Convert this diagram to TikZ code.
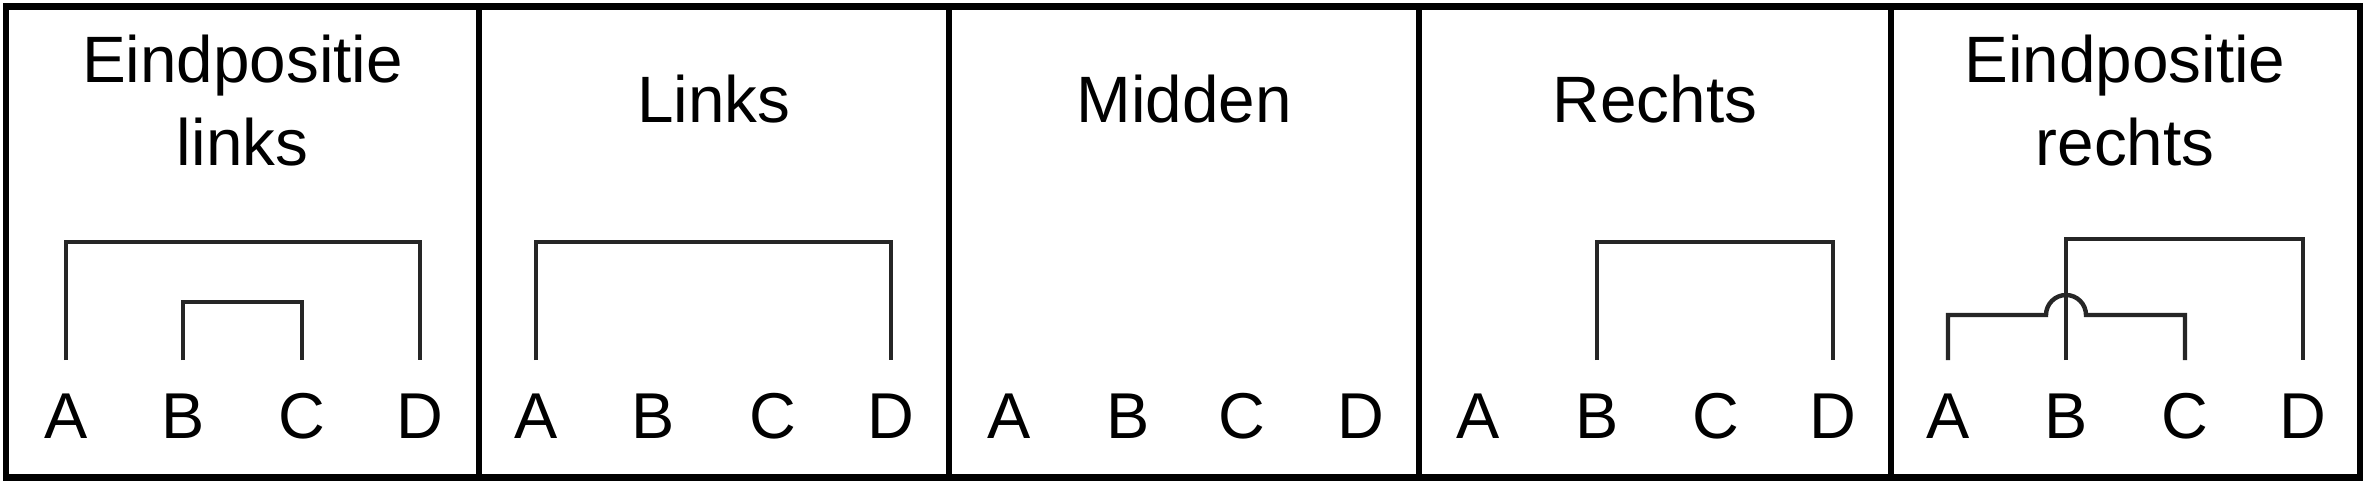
\documentclass[tikz,border=0pt]{standalone}
\usepackage{fontspec}
\setmainfont{Liberation Sans}
\usetikzlibrary{calc}
\begin{document}
\begin{tikzpicture}[x=0.25pt,y=-0.25pt,
  frame/.style={line width=1.6pt, black},
  brk/.style={line width=1.1pt, black!85, line join=miter},
  lbl/.style={anchor=base, inner sep=0pt, font=\fontsize{16.2}{19}\selectfont},
  ttl/.style={anchor=base, inner sep=0pt, font=\fontsize{16.4}{19}\selectfont}]
\useasboundingbox (0,0) rectangle (2366,484);
\fill[white] (0,0) rectangle (2366,484);
% frame and dividers
\draw[frame] (6,6.5) rectangle (2360,477.5);
\foreach \x in {479,949,1419,1891} \draw[frame] (\x,6.5) -- (\x,477.5);
% titles
\node[ttl] (t1a) at (242.5,82) {Eindpositie};
\node[ttl] (t1b) at (242.5,165) {links};
\node[ttl] (t2) at (714,122) {Links};
\node[ttl] (t3) at (1184,122) {Midden};
\node[ttl] (t4) at (1655,122) {Rechts};
\node[ttl] (t5a) at (2125,82) {Eindpositie};
\node[ttl] (t5b) at (2125,165) {rechts};
% letters
\foreach \p/\xa/\xb/\xc/\xd in {1/66/183/302/420, 2/536/653/773/891, 3/1009/1128/1242/1361, 4/1478/1597/1716/1833, 5/1948/2066/2185/2303}{
  \node[lbl] (p\p A) at (\xa,438) {A};
  \node[lbl] (p\p B) at (\xb,438) {B};
  \node[lbl] (p\p C) at (\xc,438) {C};
  \node[lbl] (p\p D) at (\xd,438) {D};
}
% levels
\coordinate (lv0) at (0,360);
\coordinate (lvtop) at (0,242);
\coordinate (lvin) at (0,302);
\coordinate (lvfive) at (0,239);
\coordinate (lvlow) at (0,315);
% panel 1
\draw[brk] (p1A |- lv0) -- (p1A |- lvtop) -- (p1D |- lvtop) -- (p1D |- lv0);
\draw[brk] (p1B |- lv0) -- (p1B |- lvin) -- (p1C |- lvin) -- (p1C |- lv0);
% panel 2
\draw[brk] (p2A |- lv0) -- (p2A |- lvtop) -- (p2D |- lvtop) -- (p2D |- lv0);
% panel 4
\draw[brk] (p4B |- lv0) -- (p4B |- lvtop) -- (p4D |- lvtop) -- (p4D |- lv0);
% panel 5
\draw[brk] (p5B |- lv0) -- (p5B |- lvfive) -- (p5D |- lvfive) -- (p5D |- lv0);
\draw[brk] (p5A |- lv0) -- (p5A |- lvlow) -- ($(p5B |- lvlow)+(-20,0)$)
  arc[start angle=180, end angle=360, radius=20] -- (p5C |- lvlow) -- (p5C |- lv0);
\end{tikzpicture}
\end{document}
